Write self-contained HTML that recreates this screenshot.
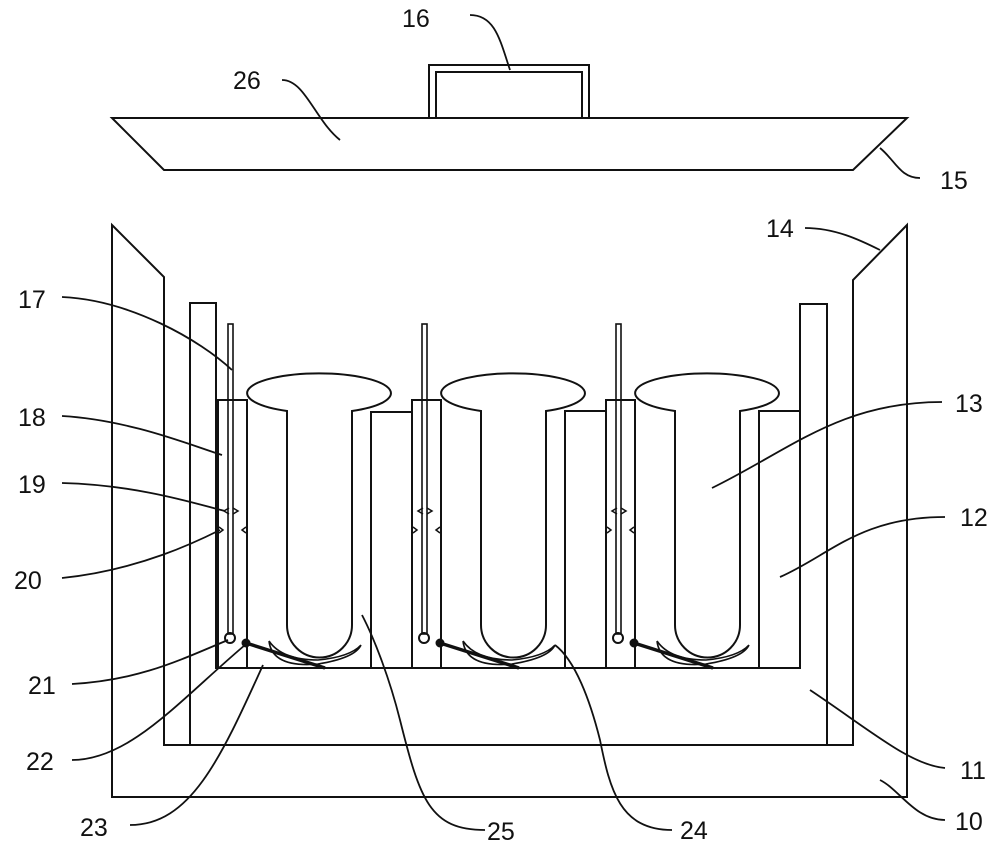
<!DOCTYPE html>
<html><head><style>html,body{margin:0;padding:0;background:#fff}svg{display:block}
text{font-family:"Liberation Sans",sans-serif;font-size:25px;fill:#111}</style></head>
<body>
<svg width="1000" height="862" viewBox="0 0 1000 862" xmlns="http://www.w3.org/2000/svg">
<defs>
<g id="u" fill="none" stroke="#111" stroke-width="2">
  <rect x="218" y="400" width="29" height="268"/>
  <rect x="228" y="324" width="5" height="310" stroke-width="1.6"/>
  <path d="M248,390 A72,20 0 0,1 390,390 A72,20 0 0,1 352,411 L352,625 A32.5,32.5 0 0,1 287,625 L287,411 A72,20 0 0,1 248,390 Z"/>
  <path d="M269,641 Q272,668 318,664 Q355,658 361,645 M269,641 Q282,660 318,660 Q350,657 361,645" stroke-width="1.6"/>
  <line x1="246" y1="643" x2="325" y2="668" stroke-width="3.5"/>
  <circle cx="230" cy="638" r="5"/>
  <circle cx="246" cy="643" r="3.5" fill="#111"/>
  <path d="M229,508 L224,511 L229,514 M233,508 L238,511 L233,514 M219,527 L223,530 L219,533 M246,527 L242,530 L246,533" stroke-width="1.5"/>
</g>
</defs>
<g fill="none" stroke="#111" stroke-width="2">
  <path d="M112,118 L907,118 L853,170 L164,170 Z"/>
  <path d="M429,118 L429,65 L589,65 L589,118 M436,118 L436,72 L582,72 L582,118"/>
  <path d="M112,225 L164,277 L164,745 L853,745 L853,280 L907,225 L907,797 L112,797 Z"/>
  <path d="M190,745 L190,303 L216,303 L216,668 L800,668 L800,304 L827,304 L827,745"/>
  <path d="M371,668 L371,412 L412,412 M565,668 L565,411 L606,411 M759,668 L759,411 L800,411"/>
  <g stroke-width="1.8">
  <path d="M470,15 C495,15 500,40 510,70"/>
  <path d="M282,80 C305,80 315,120 340,140"/>
  <path d="M920,178 C900,178 895,160 880,148"/>
  <path d="M805,228 C835,228 860,240 880,250"/>
  <path d="M62,297 C130,300 200,340 232,370"/>
  <path d="M62,416 C130,420 190,445 222,455"/>
  <path d="M62,483 C140,485 200,505 225,511"/>
  <path d="M62,578 C140,570 200,540 220,530"/>
  <path d="M942,402 C840,402 790,450 712,488"/>
  <path d="M945,517 C860,517 830,555 780,577"/>
  <path d="M945,768 C910,765 870,730 810,690"/>
  <path d="M945,820 C915,820 900,790 880,780"/>
  <path d="M72,684 C140,680 180,660 228,640"/>
  <path d="M72,760 C130,760 180,700 245,645"/>
  <path d="M130,825 C190,825 220,760 263,665"/>
  <path d="M485,830 C430,830 420,800 400,720 C390,680 375,640 362,615"/>
  <path d="M672,830 C620,830 610,790 600,740 C590,700 575,660 555,645"/>
  </g>
</g>
<use href="#u"/>
<use href="#u" transform="translate(194,0)"/>
<use href="#u" transform="translate(388,0)"/>
<g>
<text x="402" y="27">16</text>
<text x="233" y="89">26</text>
<text x="940" y="189">15</text>
<text x="766" y="237">14</text>
<text x="18" y="308">17</text>
<text x="18" y="426">18</text>
<text x="18" y="493">19</text>
<text x="14" y="589">20</text>
<text x="955" y="412">13</text>
<text x="960" y="526">12</text>
<text x="960" y="779">11</text>
<text x="955" y="830">10</text>
<text x="28" y="694">21</text>
<text x="26" y="770">22</text>
<text x="80" y="836">23</text>
<text x="487" y="840">25</text>
<text x="680" y="839">24</text>
</g>
</svg>
</body></html>
